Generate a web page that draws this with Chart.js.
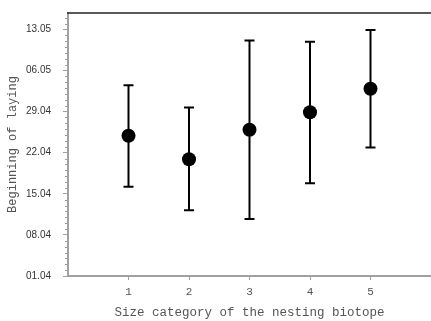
<!DOCTYPE html>
<html>
<head>
<meta charset="utf-8">
<script src="https://cdn.jsdelivr.net/npm/chart.js@4.4.1/dist/chart.umd.min.js"></script>
<style>
  html, body { margin: 0; padding: 0; background: #fff; }
  #box { width: 431px; height: 321px; }
</style>
</head>
<body>
<div id="box"><canvas id="grafica"></canvas></div>
<script>
// size categories on the x axis
const categorias = [1, 2, 3, 4, 5];
// days counted from 01.04
const medias = [23.9, 19.9, 24.9, 27.9, 31.9];
const superiores = [32.5, 28.7, 40.1, 39.9, 41.9];
const inferiores = [15.2, 11.2, 9.7, 15.8, 21.9];
const valoresY = [0, 7, 14, 21, 28, 35, 42];
const etiquetasY = ['01.04', '08.04', '15.04', '22.04', '29.04', '06.05', '13.05'];

const gris = '#a0a0a0';

// error bars, minor ticks and top frame line
const extras = {
    id: 'extras',
    beforeDatasetsDraw(chart) {
        const ctx = chart.ctx;
        const x = chart.scales.x, y = chart.scales.y;
        ctx.save();
        ctx.strokeStyle = '#000';
        ctx.lineWidth = 2;
        categorias.forEach(function (c, i) {
            const px = x.getPixelForValue(c);
            const top = y.getPixelForValue(superiores[i]);
            const bot = y.getPixelForValue(inferiores[i]);
            ctx.beginPath();
            ctx.moveTo(px, top); ctx.lineTo(px, bot);
            ctx.moveTo(px - 5, top); ctx.lineTo(px + 5, top);
            ctx.moveTo(px - 5, bot); ctx.lineTo(px + 5, bot);
            ctx.stroke();
        });
        ctx.restore();
    },
    afterDraw(chart) {
        const ctx = chart.ctx;
        const y = chart.scales.y;
        const area = chart.chartArea;
        ctx.save();
        ctx.strokeStyle = gris;
        ctx.lineWidth = 1;
        for (let d = 0; d <= y.max; d++) {
            if (d % 7 === 0) continue;
            const py = Math.round(y.getPixelForValue(d)) + 0.5;
            ctx.beginPath();
            ctx.moveTo(area.left - 3, py);
            ctx.lineTo(area.left, py);
            ctx.stroke();
        }
        ctx.strokeStyle = '#222';
        ctx.lineWidth = 1.5;
        ctx.beginPath();
        ctx.moveTo(area.left - 1, area.top);
        ctx.lineTo(area.right, area.top);
        ctx.stroke();
        ctx.restore();
    }
};

const $grafica = document.getElementById('grafica').getContext('2d');

new Chart($grafica, {
    type: 'scatter',
    data: {
        datasets: [{
            data: categorias.map(function (c, i) { return { x: c, y: medias[i] }; }),
            backgroundColor: '#000',
            borderWidth: 0,
            pointRadius: 7,
            pointHoverRadius: 7
        }]
    },
    options: {
        responsive: true,
        maintainAspectRatio: false,
        animation: false,
        events: [],
        layout: { autoPadding: false, padding: { top: 13, right: 0, left: 0, bottom: 0 } },
        plugins: { legend: { display: false }, tooltip: { enabled: false } },
        scales: {
            x: {
                type: 'linear',
                min: 0,
                max: 6,
                afterBuildTicks: function (axis) {
                    axis.ticks = categorias.map(function (c) { return { value: c }; });
                },
                afterFit: function (axis) {
                    axis.height = 45;
                    axis.paddingLeft = 0;
                    axis.paddingRight = 0;
                },
                grid: { drawOnChartArea: false, color: gris, tickLength: 4, lineWidth: 1 },
                border: { color: gris, width: 2 },
                ticks: {
                    padding: 5,
                    color: '#555',
                    font: { family: 'Liberation Mono', size: 11 }
                },
                title: {
                    display: true,
                    text: 'Size category of the nesting biotope',
                    color: '#555',
                    font: { family: 'Liberation Mono', size: 12.5 },
                    padding: { top: 1, bottom: 1 }
                }
            },
            y: {
                min: 0,
                max: 44.8,
                afterBuildTicks: function (axis) {
                    axis.ticks = valoresY.map(function (v) { return { value: v }; });
                },
                afterFit: function (axis) {
                    axis.width = 68;
                    axis.paddingTop = 0;
                    axis.paddingBottom = 0;
                },
                grid: { drawOnChartArea: false, color: gris, tickLength: 5, lineWidth: 1 },
                border: { color: gris, width: 2 },
                ticks: {
                    padding: 12,
                    color: '#333',
                    font: { family: 'Liberation Sans', size: 10 },
                    callback: function (v) {
                        const i = valoresY.indexOf(v);
                        return i >= 0 ? etiquetasY[i] : '';
                    }
                },
                title: {
                    display: true,
                    text: 'Beginning of laying',
                    color: '#555',
                    font: { family: 'Liberation Mono', size: 12 },
                    padding: { top: 6, bottom: 6 }
                }
            }
        }
    },
    plugins: [extras]
});
</script>
</body>
</html>
